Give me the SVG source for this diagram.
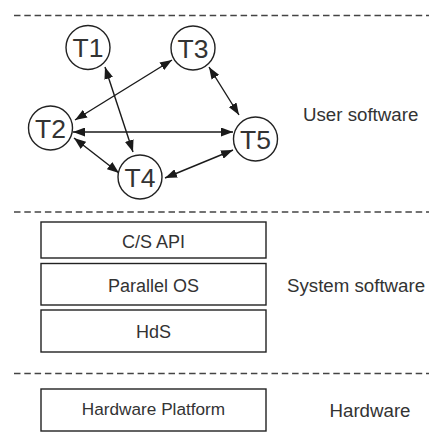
<svg xmlns="http://www.w3.org/2000/svg" width="430" height="442" viewBox="0 0 430 442">
<style>
.dash{stroke:#444;stroke-width:1.3;stroke-dasharray:6.5 3.8;fill:none}
.node circle{fill:#fff;stroke:#222;stroke-width:1.4}
.node text{font-family:"Liberation Sans",Arial,sans-serif;font-size:26.5px;fill:#333;text-anchor:middle}
.box rect{fill:#fff;stroke:#222;stroke-width:1.4}
.box text{font-family:"Liberation Sans",Arial,sans-serif;font-size:18px;fill:#333;text-anchor:middle}
.lbl{font-family:"Liberation Sans",Arial,sans-serif;font-size:18.7px;fill:#333}
.conn line{stroke:#1a1a1a;stroke-width:1.4;marker-start:url(#ah);marker-end:url(#ah)}
</style>
<defs>
<marker id="ah" markerUnits="userSpaceOnUse" markerWidth="13" markerHeight="9" refX="12" refY="4.5" orient="auto-start-reverse">
<path d="M0,0 L12,4.5 L0,9 z" fill="#1a1a1a"/>
</marker>
</defs>
<rect width="430" height="442" fill="#fff"/>
<g id="separators">
<line class="dash" x1="14" y1="15.5" x2="429" y2="15.5"/>
<line class="dash" x1="14" y1="212" x2="429" y2="212"/>
<line class="dash" x1="14" y1="373.5" x2="429" y2="373.5"/>
</g>
<g id="connectors" class="conn">
<line x1="105" y1="67" x2="133" y2="152"/>
<line x1="75" y1="120" x2="172" y2="60"/>
<line x1="73" y1="132" x2="233" y2="132"/>
<line x1="74" y1="138" x2="119" y2="173"/>
<line x1="209" y1="67" x2="239" y2="115"/>
<line x1="165" y1="178" x2="233" y2="150"/>
</g>
<g id="T1" class="node"><circle cx="88" cy="47.5" r="22"/><text x="88" y="57">T1</text></g>
<g id="T3" class="node"><circle cx="193" cy="48" r="22"/><text x="193" y="57.5">T3</text></g>
<g id="T2" class="node"><circle cx="50.5" cy="128" r="22"/><text x="50.5" y="137.5">T2</text></g>
<g id="T5" class="node"><circle cx="255.5" cy="139" r="22"/><text x="255.5" y="148.5">T5</text></g>
<g id="T4" class="node"><circle cx="140" cy="177" r="22"/><text x="140" y="186.5">T4</text></g>
<text class="lbl" x="303" y="120.5">User software</text>
<g id="csapi" class="box"><rect x="41" y="222" width="225" height="36"/><text x="153.5" y="248.3">C/S API</text></g>
<g id="parallelos" class="box"><rect x="41" y="263.5" width="225" height="41.5"/><text x="153.5" y="291.5">Parallel OS</text></g>
<g id="hds" class="box"><rect x="41" y="310" width="225" height="42"/><text x="153.5" y="338.3">HdS</text></g>
<text class="lbl" x="287" y="291.7">System software</text>
<g id="hwplatform" class="box"><rect x="41" y="389" width="225" height="42"/><text x="153.5" y="415" style="font-size:17.2px">Hardware Platform</text></g>
<text class="lbl" x="329.5" y="416.5">Hardware</text>
</svg>
